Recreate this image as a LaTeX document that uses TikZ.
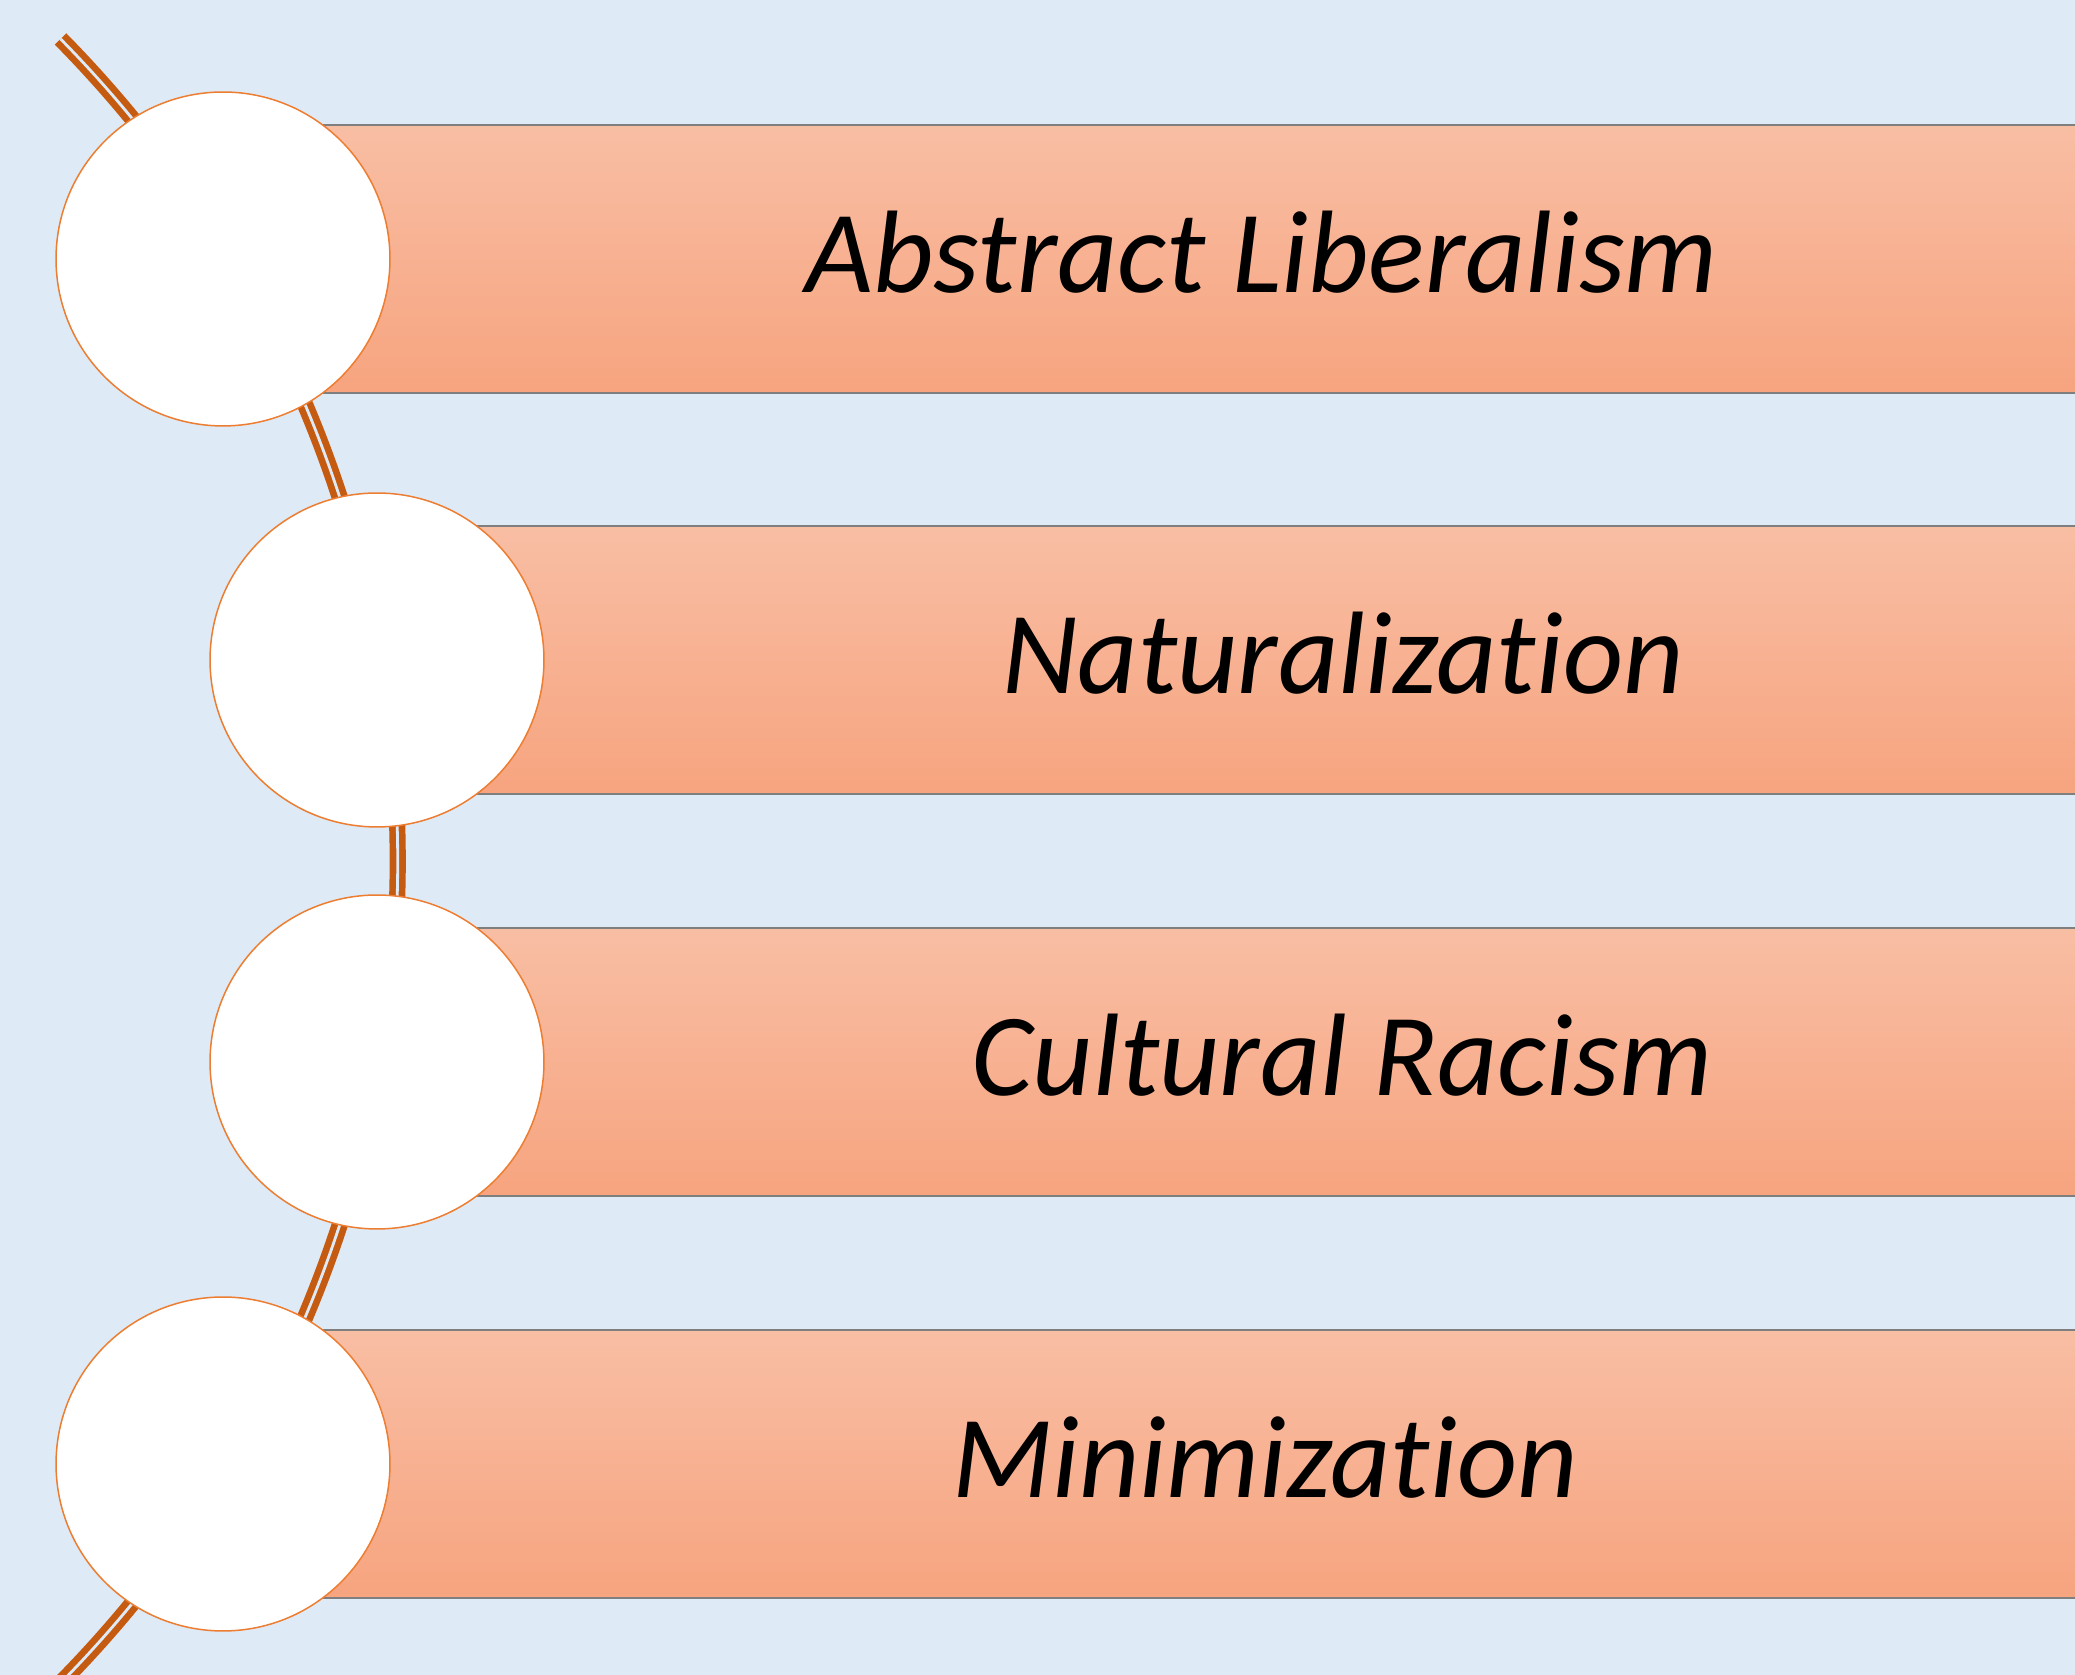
\documentclass[tikz,border=0pt]{standalone}
\usepackage{fontspec}
\setmainfont{Carlito}[Ligatures=NoCommon]
\definecolor{sky}{HTML}{DEEAF6}
\definecolor{peachtop}{HTML}{F8BEA4}
\definecolor{peachbot}{HTML}{F7A47F}
\definecolor{edgegray}{HTML}{7F7F7F}
\definecolor{ringorange}{HTML}{ED7D31}
\definecolor{rust}{HTML}{C55A11}
\tikzset{
  bar/.style={top color=peachtop, bottom color=peachbot, draw=edgegray, line width=1.1pt},
  ring/.style={circle, fill=white, draw=ringorange, line width=0.85pt, inner sep=0pt, minimum size=6.68cm},
  caption/.style={anchor=base, inner sep=0pt, font=\fontsize{66.8pt}{80pt}\selectfont\itshape},
  link/.style={draw=rust, line width=3.8pt, double=sky, double distance=1.6pt}
}
\begin{document}
\begin{tikzpicture}[x=0.02cm,y=0.02cm]
    \useasboundingbox (0,0) rectangle (2075,1675);
    \clip (0,0) rectangle (2075,1675);
    \fill[sky] (0,0) rectangle (2075,1675);
    \coordinate (hub) at (-773,814);
    \draw[link] (hub) ++(44.6:23.42cm) arc (44.6:-47:23.42cm);
    \shade[bar] (223,1282) rectangle (2100,1550);
    \shade[bar] (377,881) rectangle (2100,1149);
    \shade[bar] (377,479) rectangle (2100,747);
    \shade[bar] (223,77) rectangle (2100,345);
    \node[ring] (c1) at (223,1416) {};
    \node[ring] (c2) at (377,1015) {};
    \node[ring] (c3) at (377,613) {};
    \node[ring] (c4) at (223,211) {};
    \node[caption] (t1) at (1262,1382) {Abstract Liberalism};
    \node[caption] (t2) at (1343,981) {Naturalization};
    \node[caption] (t3) at (1342,579) {Cultural Racism};
    \node[caption] (t4) at (1265,177) {Minimization};
\end{tikzpicture}
\end{document}
